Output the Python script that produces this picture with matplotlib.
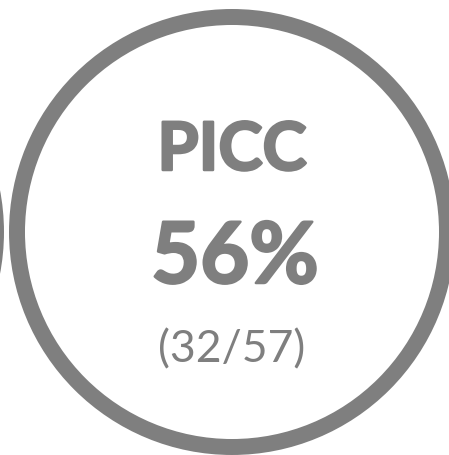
import matplotlib
matplotlib.use("Agg")
import matplotlib.pyplot as plt
import matplotlib.patheffects as pe
from matplotlib.patches import Circle

# values
label = "PICC"
count = 32
total = 57
pct = round(count / total * 100)

grey = "#7f7f7f"

fig = plt.figure(figsize=(4.49, 4.55), dpi=100)
ax = fig.add_axes([0, 0, 1, 1])
ax.set_xlim(0, 449)
ax.set_ylim(455, 0)
ax.set_aspect("equal")
ax.axis("off")

# main ring and the edge of the neighbouring one
ax.add_patch(Circle((232, 232), 215, fill=False, lw=11.5, ec=grey))
ax.add_patch(Circle((-219, 232), 215, fill=False, lw=11.5, ec=grey))

# Lato bold is a bit light next to the original, so thicken it
heavy = [pe.withStroke(linewidth=1.8, foreground=grey)]
font = "Lato"
ax.text(232, 170, label, ha="center", va="baseline", fontsize=48,
        fontweight="bold", color=grey, family=font, path_effects=heavy)
ax.text(235, 283, f"{pct}%", ha="center", va="baseline", fontsize=61,
        fontweight="bold", color=grey, family=font, path_effects=heavy)
ax.text(232, 362, f"({count}/{total})", ha="center", va="baseline",
        fontsize=32, color=grey, family=font)

fig.savefig("out.png", dpi=100)
